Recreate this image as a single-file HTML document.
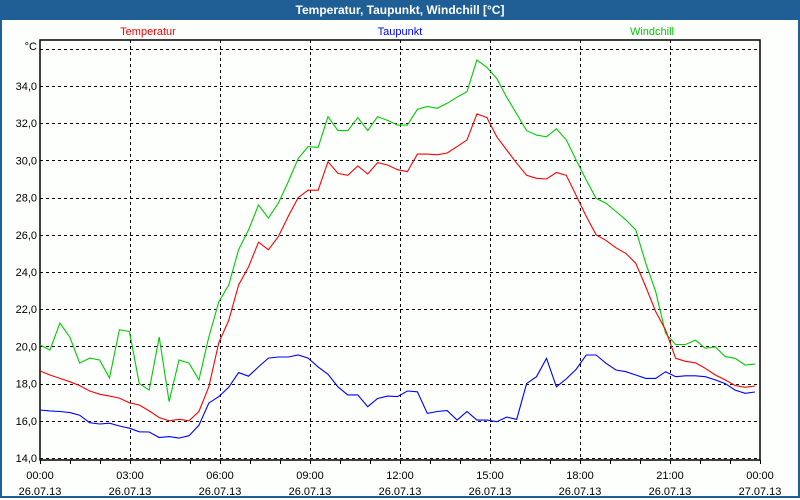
<!DOCTYPE html>
<html><head><meta charset="utf-8"><style>
body{margin:0;width:800px;height:500px;overflow:hidden;background:#fff;font-family:"Liberation Sans",sans-serif}
#win{position:absolute;left:0;top:0;width:796px;height:496px;border:2px solid #1f5f96;border-top:none;background:#fcfffc}
#title{position:absolute;left:0;top:0;width:800px;height:20px;background:#1f5f96;color:#fff;font-weight:bold;font-size:12px;text-align:center;line-height:20px}
svg{position:absolute;left:0;top:0}
</style></head><body>
<div id="win"></div>
<div id="title">Temperatur, Taupunkt, Windchill [°C]</div>
<svg id="c" width="800" height="500" font-family="Liberation Sans, sans-serif" font-size="11">
<text x="148" y="35" fill="#ff0000" text-anchor="middle">Temperatur</text>
<text x="400" y="35" fill="#0000ff" text-anchor="middle">Taupunkt</text>
<text x="652" y="35" fill="#00cc00" text-anchor="middle">Windchill</text>
<text x="37" y="50" text-anchor="end">°C</text>
</svg>
<script>
const yTicks=[14,16,18,20,22,24,26,28,30,32,34];
const xTickHours=[0,3,6,9,12,15,18,21,24];
const xTimeLabels=["00:00","03:00","06:00","09:00","12:00","15:00","18:00","21:00","00:00"];
const xDateLabels=["26.07.13","26.07.13","26.07.13","26.07.13","26.07.13","26.07.13","26.07.13","26.07.13","27.07.13"];
const temperatur=[18.68,18.46,18.28,18.1,17.89,17.6,17.43,17.33,17.22,16.97,16.85,16.53,16.17,16.0,16.08,16.0,16.5,17.83,20.2,21.4,23.3,24.27,25.6,25.2,25.9,27.0,28.0,28.4,28.4,29.93,29.3,29.2,29.7,29.27,29.88,29.75,29.5,29.4,30.34,30.34,30.3,30.4,30.74,31.1,32.5,32.3,31.27,30.56,29.85,29.2,29.04,29.0,29.35,29.2,28.1,27.0,26.0,25.7,25.3,25.0,24.47,23.2,21.87,20.88,19.36,19.2,19.12,18.82,18.46,18.2,17.9,17.8,17.87];
const windchill=[20.08,19.8,21.25,20.5,19.1,19.37,19.27,18.3,20.9,20.8,18.0,17.65,20.5,17.03,19.27,19.1,18.2,20.5,22.4,23.3,25.2,26.26,27.6,26.9,27.7,28.86,30.1,30.74,30.7,32.35,31.6,31.6,32.3,31.6,32.35,32.15,31.9,31.9,32.75,32.9,32.8,33.07,33.4,33.7,35.4,35.0,34.4,33.4,32.5,31.6,31.36,31.27,31.7,31.1,30.0,28.95,27.96,27.7,27.25,26.8,26.26,24.47,22.94,20.7,20.1,20.1,20.34,19.9,19.98,19.45,19.36,19.0,19.05];
const taupunkt=[16.58,16.53,16.5,16.44,16.3,15.9,15.83,15.87,15.72,15.6,15.41,15.4,15.1,15.15,15.07,15.2,15.76,16.95,17.3,17.8,18.59,18.4,18.9,19.37,19.43,19.43,19.54,19.37,18.9,18.5,17.83,17.39,17.39,16.76,17.2,17.33,17.3,17.6,17.56,16.4,16.5,16.55,16.04,16.5,16.04,16.04,15.95,16.2,16.08,18.0,18.37,19.36,17.83,18.25,18.78,19.54,19.54,19.09,18.73,18.64,18.46,18.28,18.28,18.64,18.37,18.42,18.42,18.37,18.2,18.0,17.65,17.48,17.55];
const X0=40,X1=760,Y0=40,Y1=460;
const xs=h=>X0+(h/24)*(X1-X0);
const ys=v=>458-(v-14)*18.6;
const svg=document.getElementById('c');
const NS='http://www.w3.org/2000/svg';
function mk(t,a){const e=document.createElementNS(NS,t);for(const k in a)e.setAttribute(k,a[k]);svg.appendChild(e);return e;}
for(let v=14;v<=36;v+=2){
 const y=Math.round(ys(v))+0.5;
 const g=mk('line',{x1:X0,x2:X1,y1:y,y2:y,stroke:'#000','stroke-dasharray':'3,3','shape-rendering':'crispEdges'});
 
 
}
yTicks.forEach(v=>{
 const t=mk('text',{x:37,y:ys(v)+4,'text-anchor':'end',fill:'#000'});
 t.textContent=v.toFixed(1).replace('.',',');
 
 
});
xTickHours.forEach((h,i)=>{
 if(h>0&&h<24){
  const g=mk('line',{x1:xs(h)+0.5,x2:xs(h)+0.5,y1:Y0,y2:Y1,stroke:'#000','stroke-dasharray':'3,3','shape-rendering':'crispEdges'});
  
  
 }
 const t=mk('text',{x:xs(h),y:479,'text-anchor':'middle',fill:'#000'});
 t.textContent=xTimeLabels[i];
 
 
 const d=mk('text',{x:xs(h),y:495,'text-anchor':'middle',fill:'#000'});
 d.textContent=xDateLabels[i];
 
 
});
for(let h=0;h<=24;h++){
 const tk=mk('line',{x1:xs(h)+0.5,x2:xs(h)+0.5,y1:Y1,y2:Y1+4,stroke:'#000','shape-rendering':'crispEdges'});
 
 
}
const fr=mk('rect',{x:X0,y:Y0,width:X1-X0,height:Y1-Y0,fill:'none',stroke:'#000','stroke-width':1.5});


function series(arr,color,name){
 const n=arr.length;
 const pts=arr.map((v,i)=>(X0+(i/(n-1))*715).toFixed(1)+','+ys(v).toFixed(1)).join(' ');
 const p=mk('polyline',{points:pts,fill:'none',stroke:color,'stroke-width':1.1});
 
 
}
series(windchill,'#00cc00','windchill-line');
series(temperatur,'#ff0000','temperatur-line');
series(taupunkt,'#0000ff','taupunkt-line');
</script>
</body></html>
